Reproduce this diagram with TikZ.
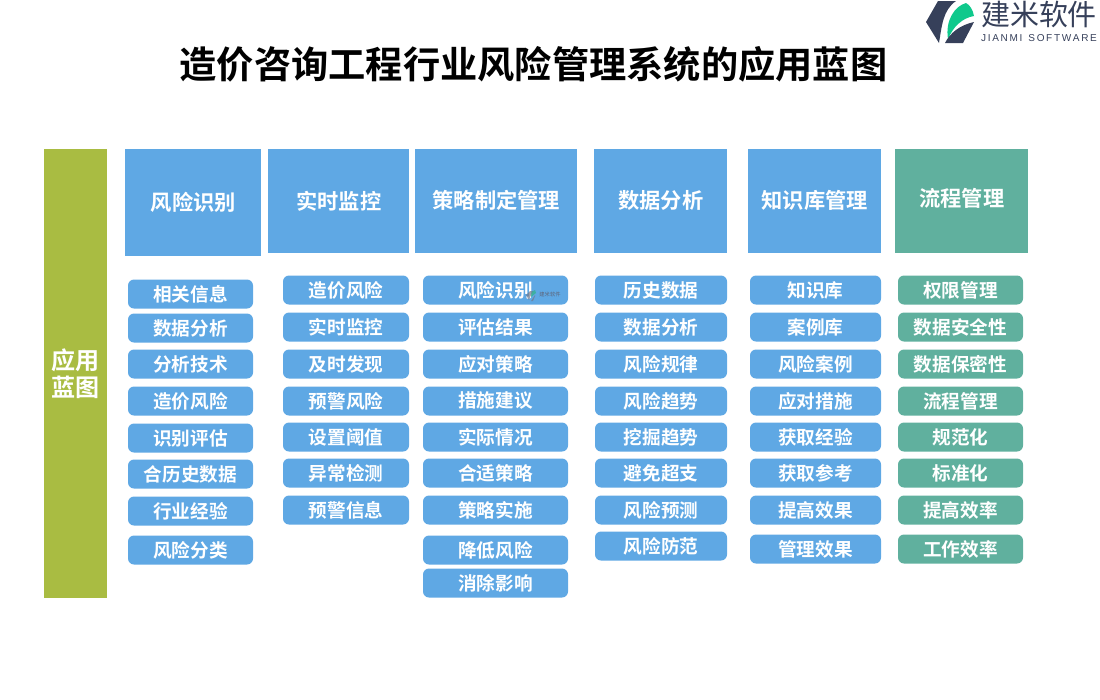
\documentclass[tikz,border=0pt]{standalone}
\usepackage{fontspec}
\setmainfont{Noto Sans CJK SC}[BoldFont={* Bold}]
\newfontfamily\latinfont{Liberation Sans}
\definecolor{itemblue}{HTML}{5FA8E4}
\definecolor{itemgreen}{HTML}{60B09E}
\definecolor{baroline}{HTML}{A9BC42}
\definecolor{logodark}{HTML}{36405A}
\definecolor{logogreen}{HTML}{0FC98C}
\def\px{0.02cm}
\tikzset{
    headbox/.style={fill=#1,text=white,font=\fontsize{12.1pt}{14pt}\selectfont\bfseries,inner sep=0pt,anchor=north west},
    itembox/.style={fill=#1,text=white,rounded corners=0.12cm,minimum height=29*\px,inner sep=0pt,font=\fontsize{10.6pt}{12pt}\selectfont\bfseries}
}
\begin{document}
\begin{tikzpicture}[x=0.02cm,y=-0.02cm]
    \useasboundingbox (0,0) rectangle (1100,700);

    \node[font=\fontsize{21.2pt}{24pt}\selectfont\bfseries] (title) at (533.5,64) {造价咨询工程行业风险管理系统的应用蓝图};

    \node[headbox=baroline,minimum width=63*\px,minimum height=449*\px,font=\fontsize{13.7pt}{15.6pt}\selectfont\bfseries,align=center] (side) at (44,149) {应用\\蓝图};

    \foreach \x/\w/\h/\c/\r/\t [count=\i] in {125/136/107/itemblue/0.06cm/风险识别,268/141/104/itemblue/0.06cm/实时监控,415/162/104/itemblue/0.06cm/策略制定管理,594/133/104/itemblue/0.06cm/数据分析,748/133/104/itemblue/0.06cm/知识库管理,895/133/104/itemgreen/0.14cm/流程管理}
        \node[headbox=\c,minimum width=\w*\px,minimum height=\h*\px] (head\i) at (\x,149) {\raisebox{\r}{\t}};

    \foreach \y/\t [count=\i] in {294/相关信息,328/数据分析,364/分析技术,401/造价风险,438/识别评估,474/合历史数据,511/行业经验,550/风险分类}
        \node[itembox=itemblue,minimum width=125*\px] (risk\i) at (190.5,\y) {\t};

    \foreach \y/\t [count=\i] in {290/造价风险,327/实时监控,364/及时发现,401/预警风险,437/设置阈值,473/异常检测,510/预警信息}
        \node[itembox=itemblue,minimum width=126*\px] (watch\i) at (346,\y) {\t};

    \foreach \y/\t [count=\i] in {290/风险识别,327/评估结果,364/应对策略,401/措施建议,437/实际情况,473/合适策略,510/策略实施,550/降低风险,583/消除影响}
        \node[itembox=itemblue,minimum width=145*\px] (plan\i) at (495.5,\y) {\t};

    \foreach \y/\t [count=\i] in {290/历史数据,327/数据分析,364/风险规律,401/风险趋势,437/挖掘趋势,473/避免超支,510/风险预测,546/风险防范}
        \node[itembox=itemblue,minimum width=132*\px] (data\i) at (661,\y) {\t};

    \foreach \y/\t [count=\i] in {290/知识库,327/案例库,364/风险案例,401/应对措施,437/获取经验,473/获取参考,510/提高效果,549/管理效果}
        \node[itembox=itemblue,minimum width=131*\px] (know\i) at (815.5,\y) {\t};

    \foreach \y/\t [count=\i] in {290/权限管理,327/数据安全性,364/数据保密性,401/流程管理,437/规范化,473/标准化,510/提高效率,549/工作效率}
        \node[itembox=itemgreen,minimum width=125*\px] (flow\i) at (960.5,\y) {\t};

    \fill[logodark] (938,1) -- (956,1) .. controls (943,10) and (942,25) .. (939,43) -- (926,22) -- cycle;
    \fill[logogreen] (948,39) .. controls (945,20) and (955,6) .. (966,3) .. controls (970,5) and (973,10) .. (974,16) .. controls (962,18) and (953,27) .. (948,39) -- cycle;
    \fill[logodark] (945,43) .. controls (950,33) and (960,25) .. (974,22) -- (963,43) -- cycle;
    \node[font=\fontsize{16.5pt}{18pt}\selectfont,text=logodark,inner sep=0pt] (logotext) at (1039,14) {建米软件};
    \node[font=\latinfont\fontsize{5.7pt}{8pt}\selectfont,text=logodark,inner sep=0pt] (logosub) at (1039,38) {J\,I\,A\,N\,M\,I\, \,S\,O\,F\,T\,W\,A\,R\,E};

    \fill[logodark!70,opacity=.7] (530,291) -- (533,291) -- (530,297) -- (529,300) -- (526,295) -- cycle;
    \fill[logogreen!70!gray,opacity=.7] (531,297) .. controls (531,292) and (533,290) .. (535,290) -- (536,293) -- cycle;
    \fill[logodark!70,opacity=.7] (531,301) -- (535,295) -- (535,296) -- (533,301) -- cycle;
    \node[font=\fontsize{3pt}{4pt}\selectfont,text=logodark!80,inner sep=0pt] (marktext) at (550,294) {建米软件};
\end{tikzpicture}
\end{document}
